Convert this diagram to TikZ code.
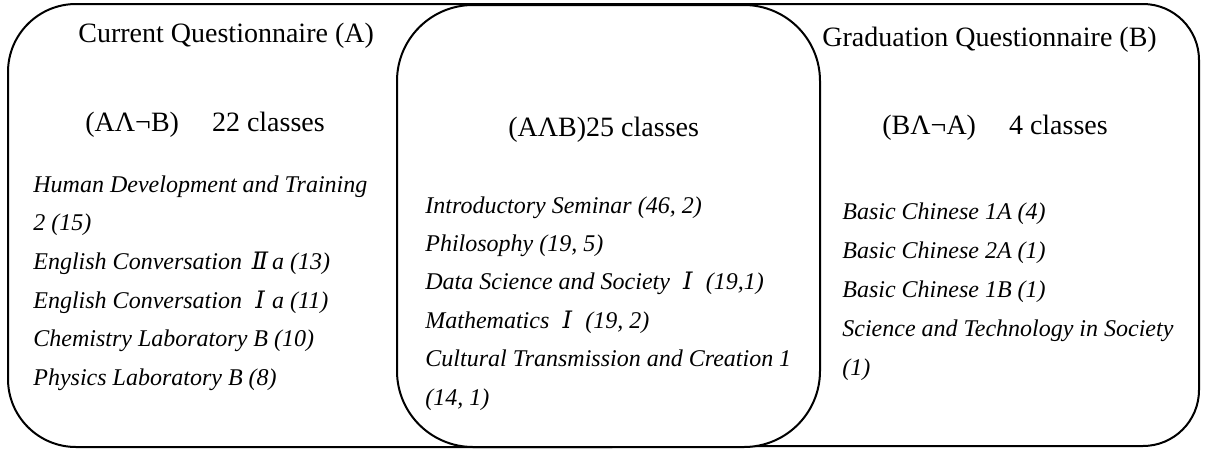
\documentclass[tikz,border=0pt]{standalone}
\usepackage{fontspec}
\setmainfont{Liberation Serif}
\newfontfamily\numfont{DejaVu Serif}
\newcommand{\rnum}[1]{\makebox[1em]{\numfont\itshape #1}}

\begin{document}
\begin{tikzpicture}[x=0.5pt, y=-0.5pt]

      \tikzset{setbox/.style = {draw, line width=1pt, rounded corners=34pt}}
      \tikzset{head/.style = {anchor=base west, inner sep=0pt, font=\fontsize{14}{17}\selectfont}}
      \tikzset{item/.style = {anchor=base west, inner sep=0pt, font=\fontsize{12}{14}\selectfont\itshape}}
      \useasboundingbox (0,0) rectangle (1205,450);
      % sets
      \draw[setbox] (8,4) rectangle (680,447);
      \draw[setbox, rounded corners=28pt] (540,4) rectangle (1199,446);
      \draw[setbox, rounded corners=38pt, fill=white] (397,5) rectangle (820,447);
      % headings
      \node[head] (cur)  at (78,42)   {Current Questionnaire (A)};
      \node[head] (grad) at (822,46)  {Graduation Questionnaire (B)};
      \node[head] (onlya) at (85,131)  {(AΛ¬B)\hspace{16.5pt}22 classes};
      \node[head] (both)  at (508,136) {(AΛB)25 classes};
      \node[head] (onlyb) at (882,134) {(BΛ¬A)\hspace{16.5pt}4 classes};
      % classes
      \foreach \lbl [count=\i] in {Human Development and Training, 2 (15),
          English Conversation \rnum{Ⅱ}a (13), English Conversation \rnum{Ⅰ}a (11),
          Chemistry Laboratory B (10), Physics Laboratory B (8)}
        \node[item] (a\i) at (33, {192+38.7*(\i-1)}) {\lbl};
      \foreach \lbl [count=\i] in {{Introductory Seminar (46, 2)}, {Philosophy (19, 5)},
          {Data Science and Society \rnum{Ⅰ} (19,1)}, {Mathematics \rnum{Ⅰ} (19, 2)},
          Cultural Transmission and Creation 1, {(14, 1)}}
        \node[item] (ab\i) at (425, {213+38.4*(\i-1)}) {\lbl};
      \foreach \lbl [count=\i] in {Basic Chinese 1A (4), Basic Chinese 2A (1),
          Basic Chinese 1B (1), Science and Technology in Society, (1)}
        \node[item] (b\i) at (842, {219+39*(\i-1)}) {\lbl};

\end{tikzpicture}
\end{document}
